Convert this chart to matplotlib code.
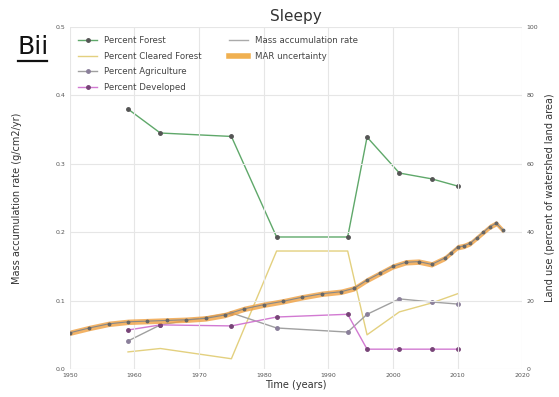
import matplotlib
matplotlib.use("Agg")
import matplotlib.pyplot as plt
from matplotlib.lines import Line2D

# Land-use survey years and percentages of watershed area
landuse_years = [1959, 1964, 1975, 1982, 1993, 1996, 2001, 2006, 2010]
pct_forest = [76, 69, 68, 38.6, 38.6, 67.8, 57.3, 55.6, 53.5]
pct_cleared = [5, 6, 3, 34.5, 34.5, 10, 16.7, 19.3, 22]
pct_agric = [8.2, 12.9, 16.4, 12, 10.8, 16, 20.5, 19.6, 19]
pct_developed = [11.4, 12.9, 12.6, 15.2, 16, 5.8, 5.8, 5.8, 5.8]

# Sediment core mass accumulation rate (g/cm2/yr)
mar_years = [1950, 1953, 1956, 1959, 1962, 1965, 1968, 1971, 1974, 1977,
             1980, 1983, 1986, 1989, 1992, 1994, 1996, 1998, 2000, 2002,
             2004, 2006, 2008, 2009, 2010, 2011, 2012, 2013, 2014, 2015,
             2016, 2017]
mar = [0.053, 0.060, 0.066, 0.069, 0.070, 0.071, 0.072, 0.074, 0.079, 0.088,
       0.094, 0.099, 0.105, 0.110, 0.113, 0.118, 0.130, 0.140, 0.150, 0.156,
       0.157, 0.153, 0.162, 0.170, 0.178, 0.180, 0.184, 0.192, 0.200, 0.208,
       0.213, 0.203]
mar_err = [0.004] * len(mar)

x_ticks = [1950, 1960, 1970, 1980, 1990, 2000, 2010, 2020]
left_ticks = [0.0, 0.1, 0.2, 0.3, 0.4, 0.5]
right_ticks = [0, 20, 40, 60, 80, 100]

fig = plt.figure(figsize=(5.59, 3.97), dpi=100)
ax = fig.add_axes([0.125, 0.0705, 0.809, 0.8615])
ax2 = ax.twinx()

ax.set_xlim(1950, 2020)
ax.set_ylim(0, 0.5)
ax2.set_ylim(0, 100)

grid_c = "#e6e6e6"
ax.set_xticks(x_ticks)
ax.set_yticks(left_ticks)
ax2.set_yticks(right_ticks)
ax.grid(True, color=grid_c, linewidth=0.8)
ax.set_axisbelow(True)
for a in (ax, ax2):
    for s in a.spines.values():
        s.set_visible(False)
    a.tick_params(length=0, labelsize=4.5, colors="#555555", pad=3)

ax.set_yticklabels([f"{v:.1f}" for v in left_ticks])

# Land-use series on the right axis
ax2.plot(landuse_years, pct_forest, color="#5fa86a", lw=1.0, marker="o",
         ms=2.5, mfc="#555555", mec="#555555", label="Percent Forest")
ax2.plot(landuse_years, pct_cleared, color="#e3d07f", lw=1.0,
         label="Percent Cleared Forest")
ax2.plot(landuse_years, pct_agric, color="#a0a0a0", lw=1.0, marker="o",
         ms=2.5, mfc="#8a7f9a", mec="#8a7f9a", label="Percent Agriculture")
ax2.plot(landuse_years, pct_developed, color="#d27ad2", lw=1.0, marker="o",
         ms=2.5, mfc="#774477", mec="#774477", label="Percent Developed")

# MAR with uncertainty band
lo = [m - e for m, e in zip(mar, mar_err)]
hi = [m + e for m, e in zip(mar, mar_err)]
ax.fill_between(mar_years, lo, hi, color="#f0a040", alpha=0.8, lw=0,
                zorder=3)
ax.plot(mar_years, mar, color="#888888", lw=0.8, marker="o", ms=1.8,
        mfc="#666666", mec="#666666", zorder=4)

ax.set_zorder(ax2.get_zorder() + 1)
ax.patch.set_visible(False)

ax.set_xlabel("Time (years)", fontsize=7, color="#333333", labelpad=1)
ax.set_ylabel("Mass accumulation rate (g/cm2/yr)", fontsize=7, color="#333333",
              labelpad=24)
ax2.set_ylabel("Land use (percent of watershed land area)", fontsize=7,
               color="#333333", labelpad=5)
ax.set_title("Sleepy", fontsize=11, color="#333333", pad=4)

h2, l2 = ax2.get_legend_handles_labels()
mar_handle = Line2D([], [], color="#aaaaaa", lw=1.0)
unc_handle = Line2D([], [], color="#f0b050", lw=4)
blank = Line2D([], [], color="none")
handles = h2 + [mar_handle, unc_handle, blank, blank]
labels = l2 + ["Mass accumulation rate", "MAR uncertainty", "", ""]
leg = ax.legend(handles, labels, ncol=2, loc="upper left", fontsize=6.2,
                frameon=False, bbox_to_anchor=(0.005, 0.99), handlelength=2.2,
                columnspacing=3.2, labelspacing=0.75, borderaxespad=0.3)
for t in leg.get_texts():
    t.set_color("#444444")

fig.text(0.032, 0.852, "Bii", fontsize=18, color="#111111", va="bottom")
fig.add_artist(Line2D([0.032, 0.084], [0.846, 0.846], color="#111111", lw=1.6,
                      transform=fig.transFigure))

fig.savefig("out.png", dpi=100)
